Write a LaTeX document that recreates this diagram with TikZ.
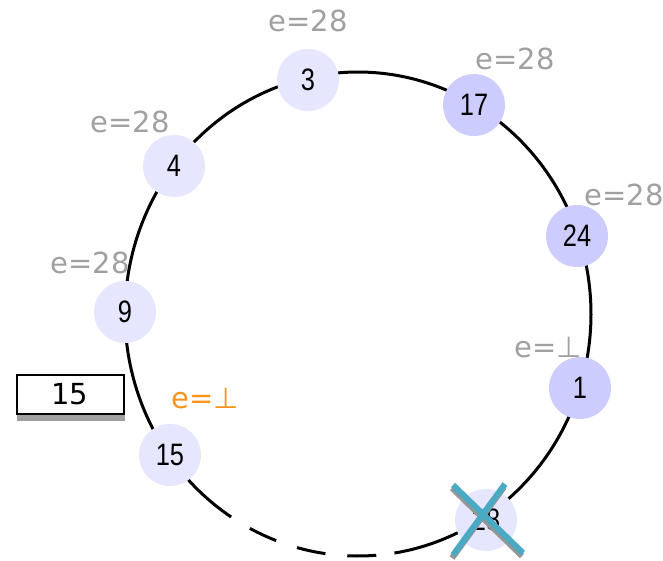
\documentclass[tikz,border=0pt]{standalone}
\usepackage{fontspec}
\setmainfont{DejaVu Sans}
\newfontfamily\nodefont[FakeStretch=0.82]{Liberation Sans}
\definecolor{nodelight}{RGB}{230,230,255}
\definecolor{nodedark}{RGB}{204,204,255}
\definecolor{labelgray}{RGB}{160,160,160}
\definecolor{labelorange}{RGB}{247,148,29}
\definecolor{crossteal}{RGB}{75,170,195}
\definecolor{shadowgray}{RGB}{150,150,150}
\tikzset{
  ringnode/.style={circle, minimum size=62pt, inner sep=0pt, font=\nodefont\fontsize{31}{31}\selectfont, text=black},
  lightnode/.style={ringnode, fill=nodelight},
  darknode/.style={ringnode, fill=nodedark},
  elabel/.style={font=\fontsize{29}{29}\selectfont, text=labelgray, inner sep=0pt},
  olabel/.style={font=\fontsize{29}{29}\selectfont, text=labelorange, inner sep=0pt},
  ring/.style={line width=3pt, black},
  crossline/.style={line width=6pt, crossteal},
  crossshadow/.style={line width=6pt, shadowgray},
}
\begin{document}
\begin{tikzpicture}[x=1pt,y=-1pt]
\useasboundingbox (0,0) rectangle (663,560);
% ring
\draw[ring] plot[domain=-81:237, samples=300, smooth] ({358+233*cos(\x)},{314-242*sin(\x)});
\draw[ring, dash pattern=on 29pt off 22pt, dash phase=29pt] plot[domain=237:279, samples=60, smooth] ({358+233*cos(\x)},{314-242*sin(\x)});
% nodes
\node[lightnode] (n3) at (308,80) {3};
\node[darknode] (n17) at (474,105) {17};
\node[darknode] (n24) at (577,236) {24};
\node[darknode] (n1) at (580,388) {1};
\node[lightnode] (n28) at (486,520) {28};
\node[lightnode] (n15) at (170,455) {15};
\node[lightnode] (n9) at (125,312) {9};
\node[lightnode] (n4) at (174,166) {4};
% labels
\node[elabel] (l3) at (308,21) {e=28};
\node[elabel] (l17) at (515,59) {e=28};
\node[elabel] (l24) at (624,195) {e=28};
\node[elabel] (l1) at (548,348) {e=⊥};
\node[elabel] (l4) at (130,122) {e=28};
\node[elabel] (l9) at (90,263) {e=28};
\node[olabel] (l15) at (205,399) {e=⊥};
% box
\fill[labelgray] (17,380) rectangle (125,421);
\node[draw=black, line width=2pt, fill=white, minimum width=107pt, minimum height=39pt, inner sep=0pt, font=\fontsize{29}{29}\selectfont] (box) at (70,394.5) {15};
% cross
\coordinate (c1a) at (453,485);
\coordinate (c1b) at (523,553);
\coordinate (c2a) at (505,484);
\coordinate (c2b) at (453,555);
\draw[crossshadow] ([shift={(-1,3)}]c1a) -- ([shift={(-1,3)}]c1b);
\draw[crossshadow] ([shift={(-1,3)}]c2a) -- ([shift={(-1,3)}]c2b);
\draw[crossline] (c1a) -- (c1b);
\draw[crossline] (c2a) -- (c2b);
\end{tikzpicture}
\end{document}
